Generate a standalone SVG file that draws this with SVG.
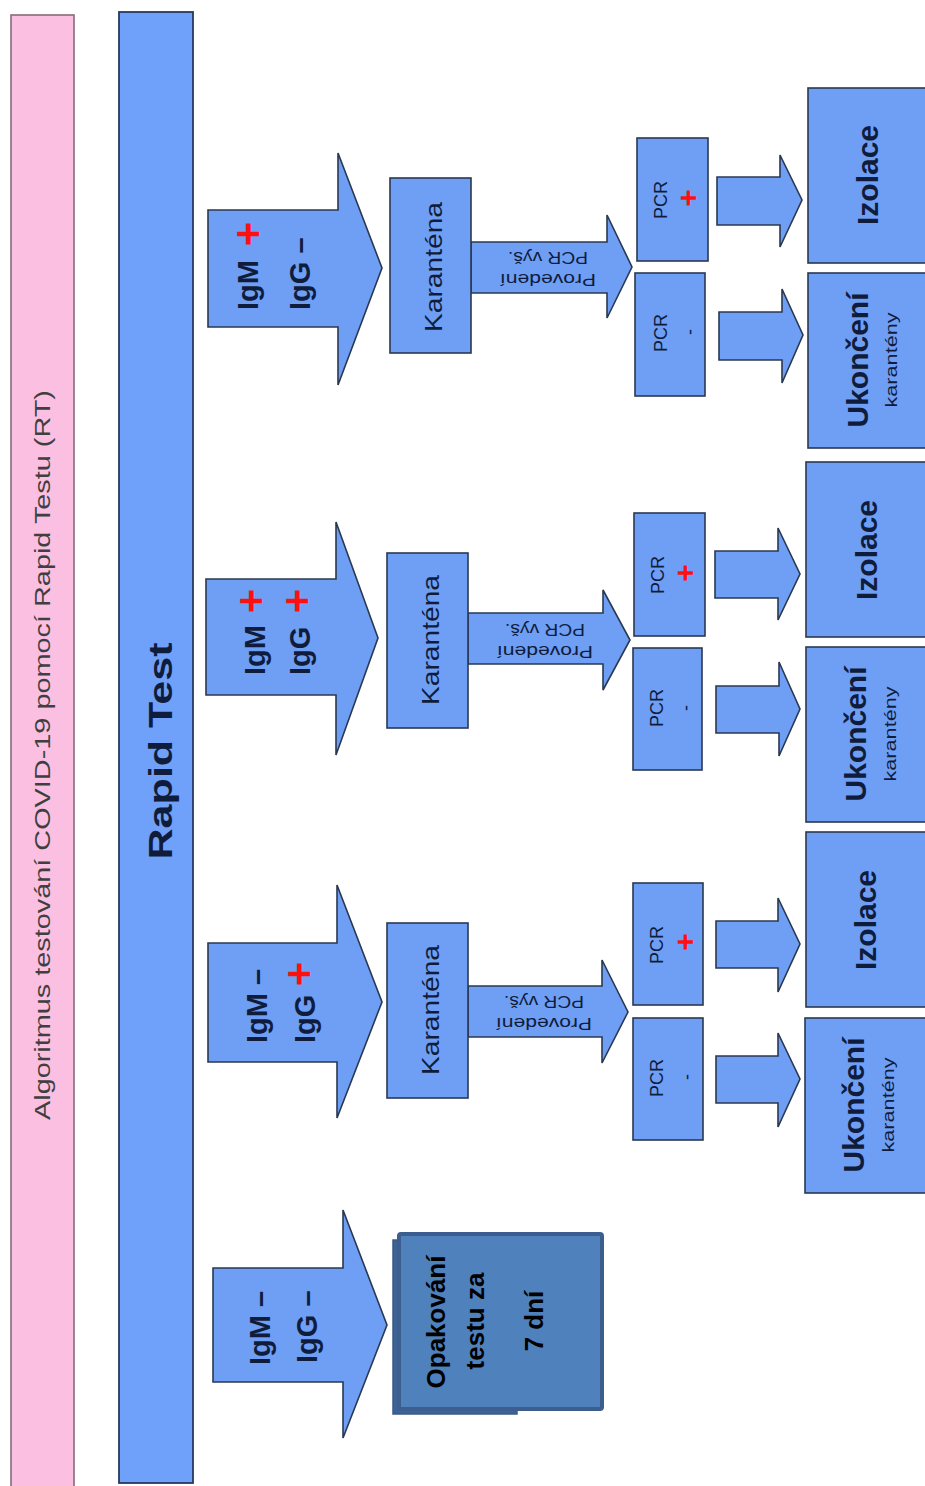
<svg xmlns="http://www.w3.org/2000/svg" width="925" height="1486" viewBox="0 0 925 1486">
<style>
.bx{fill:#6e9ff5;stroke:#2a3850;stroke-width:1.6}
.ar{fill:#6e9ff5;stroke:#2a3850;stroke-width:1.6;stroke-linejoin:miter}
.t{font-family:"Liberation Sans",Arial,sans-serif;fill:#101c3c}
.b{font-weight:bold}
.ig{font-family:"Liberation Sans",Arial,sans-serif;font-weight:bold;font-size:29px;fill:#101c3c}
.rp{font-family:"Liberation Sans",Arial,sans-serif;font-weight:bold;fill:#ff1010;text-anchor:middle}
.pcr{font-family:"Liberation Sans",Arial,sans-serif;font-size:18px;fill:#101c3c;text-anchor:middle}
.pv{font-family:"Liberation Sans",Arial,sans-serif;font-size:16px;fill:#101c3c;text-anchor:middle}
.mid{text-anchor:middle}
</style>
<rect width="925" height="1486" fill="#ffffff"/>

<g id="title">
<rect x="11" y="15" width="63" height="1475" fill="#fbbfe2" stroke="#8a6a78" stroke-width="1.6"/>
<text class="t mid" transform="translate(50,755) rotate(-90)" font-size="22" style="fill:#3f3f3f" textLength="730" lengthAdjust="spacingAndGlyphs">Algoritmus testování COVID-19 pomocí Rapid Testu (RT)</text>
</g>

<g id="rapid-test">
<rect x="119" y="12" width="74" height="1471" fill="#6fa0fa" stroke="#27395c" stroke-width="1.8"/>
<text class="t b mid" transform="translate(172,751) rotate(-90)" font-size="34" textLength="217" lengthAdjust="spacingAndGlyphs">Rapid Test</text>
</g>

<g id="connectors">
<polygon class="ar" points="208,210 338,210 338,153 382,268 338,385 338,327 208,327"/>
<polygon class="ar" points="206,579 336,579 336,522 378,638 336,755 336,695 206,695"/>
<polygon class="ar" points="208,943 337,943 337,885 382,1002 337,1118 337,1062 208,1062"/>
<polygon class="ar" points="213,1268 343,1268 343,1210 387,1325 343,1438 343,1382 213,1382"/>
<polygon class="ar" points="471,242 607,242 607,215 632,267 607,318 607,293 471,293"/>
<polygon class="ar" points="468,613 603,613 603,590 630,640 603,690 603,664 468,664"/>
<polygon class="ar" points="468,986 602,986 602,960 628,1012 602,1063 602,1037 468,1037"/>
<polygon class="ar" points="717,177 780,177 780,155 802,200 780,247 780,225 717,225"/>
<polygon class="ar" points="719,312 782,312 782,289 803,335 782,383 782,360 719,360"/>
<polygon class="ar" points="715,551 778,551 778,528 800,574 778,620 778,598 715,598"/>
<polygon class="ar" points="716,686 779,686 779,662 800,709 779,756 779,733 716,733"/>
<polygon class="ar" points="716,921 778,921 778,898 800,944 778,992 778,968 716,968"/>
<polygon class="ar" points="716,1056 778,1056 778,1033 800,1079 778,1127 778,1103 716,1103"/>
<!-- big arrow labels -->
<text class="ig" transform="translate(258,310) rotate(-90)">IgM</text>
<text class="rp" font-size="42" transform="translate(262,234) rotate(-90)">+</text>
<text class="ig" transform="translate(310,310) rotate(-90)">IgG –</text>

<text class="ig" transform="translate(265,675) rotate(-90)">IgM</text>
<text class="rp" font-size="42" transform="translate(265,601) rotate(-90)">+</text>
<text class="ig" transform="translate(310,675) rotate(-90)">IgG</text>
<text class="rp" font-size="42" transform="translate(311,601) rotate(-90)">+</text>

<text class="ig" transform="translate(267,1043) rotate(-90)">IgM –</text>
<text class="ig" transform="translate(315,1043) rotate(-90)">IgG</text>
<text class="rp" font-size="42" transform="translate(313,974) rotate(-90)">+</text>

<text class="ig" transform="translate(270,1365) rotate(-90)">IgM –</text>
<text class="ig" transform="translate(317,1363) rotate(-90)">IgG –</text>
<!-- PCR arrow labels -->
<text class="pv" transform="translate(548,274) rotate(180)" textLength="96" lengthAdjust="spacingAndGlyphs">Provedení</text>
<text class="pv" transform="translate(548,252) rotate(180)" textLength="80" lengthAdjust="spacingAndGlyphs">PCR vyš.</text>
<text class="pv" transform="translate(545,646) rotate(180)" textLength="96" lengthAdjust="spacingAndGlyphs">Provedení</text>
<text class="pv" transform="translate(545,624) rotate(180)" textLength="80" lengthAdjust="spacingAndGlyphs">PCR vyš.</text>
<text class="pv" transform="translate(544,1018) rotate(180)" textLength="96" lengthAdjust="spacingAndGlyphs">Provedení</text>
<text class="pv" transform="translate(544,996) rotate(180)" textLength="80" lengthAdjust="spacingAndGlyphs">PCR vyš.</text>
</g>

<g id="karantena-1">
<rect class="bx" x="390" y="178" width="81" height="175"/>
<text class="t mid" transform="translate(442,267) rotate(-90)" font-size="24" textLength="130" lengthAdjust="spacingAndGlyphs">Karanténa</text>
</g>
<g id="karantena-2">
<rect class="bx" x="387" y="553" width="81" height="175"/>
<text class="t mid" transform="translate(439,640) rotate(-90)" font-size="24" textLength="130" lengthAdjust="spacingAndGlyphs">Karanténa</text>
</g>
<g id="karantena-3">
<rect class="bx" x="387" y="923" width="81" height="175"/>
<text class="t mid" transform="translate(439,1010) rotate(-90)" font-size="24" textLength="130" lengthAdjust="spacingAndGlyphs">Karanténa</text>
</g>

<g id="pcr-pos-1">
<rect class="bx" x="637" y="138" width="71" height="123"/>
<text class="pcr" transform="translate(667,200) rotate(-90)">PCR</text>
<text class="rp" font-size="30" transform="translate(698,198) rotate(-90)">+</text>
</g>
<g id="pcr-neg-1">
<rect class="bx" x="635" y="273" width="70" height="123"/>
<text class="pcr" transform="translate(667,333) rotate(-90)">PCR</text>
<text class="pcr" transform="translate(696,332) rotate(-90)">-</text>
</g>
<g id="pcr-pos-2">
<rect class="bx" x="634" y="513" width="71" height="123"/>
<text class="pcr" transform="translate(664,575) rotate(-90)">PCR</text>
<text class="rp" font-size="30" transform="translate(695,573) rotate(-90)">+</text>
</g>
<g id="pcr-neg-2">
<rect class="bx" x="633" y="648" width="69" height="122"/>
<text class="pcr" transform="translate(663,708) rotate(-90)">PCR</text>
<text class="pcr" transform="translate(692,708) rotate(-90)">-</text>
</g>
<g id="pcr-pos-3">
<rect class="bx" x="633" y="883" width="70" height="122"/>
<text class="pcr" transform="translate(663,945) rotate(-90)">PCR</text>
<text class="rp" font-size="30" transform="translate(695,942) rotate(-90)">+</text>
</g>
<g id="pcr-neg-3">
<rect class="bx" x="633" y="1018" width="70" height="122"/>
<text class="pcr" transform="translate(663,1078) rotate(-90)">PCR</text>
<text class="pcr" transform="translate(693,1077) rotate(-90)">-</text>
</g>

<g id="izolace-1">
<rect class="bx" x="808" y="88" width="118" height="175"/>
<text class="t b mid" transform="translate(878,175) rotate(-90)" font-size="30">Izolace</text>
</g>
<g id="ukonceni-1">
<rect class="bx" x="808" y="273" width="118" height="175"/>
<text class="t b mid" transform="translate(868,360) rotate(-90)" font-size="30">Ukončení</text>
<text class="t mid" transform="translate(897,360) rotate(-90)" font-size="16" textLength="95" lengthAdjust="spacingAndGlyphs">karantény</text>
</g>
<g id="izolace-2">
<rect class="bx" x="806" y="462" width="120" height="175"/>
<text class="t b mid" transform="translate(877,550) rotate(-90)" font-size="30">Izolace</text>
</g>
<g id="ukonceni-2">
<rect class="bx" x="806" y="647" width="120" height="175"/>
<text class="t b mid" transform="translate(866,734) rotate(-90)" font-size="30">Ukončení</text>
<text class="t mid" transform="translate(896,734) rotate(-90)" font-size="16" textLength="95" lengthAdjust="spacingAndGlyphs">karantény</text>
</g>
<g id="izolace-3">
<rect class="bx" x="806" y="832" width="120" height="175"/>
<text class="t b mid" transform="translate(876,920) rotate(-90)" font-size="30">Izolace</text>
</g>
<g id="ukonceni-3">
<rect class="bx" x="805" y="1018" width="121" height="175"/>
<text class="t b mid" transform="translate(864,1105) rotate(-90)" font-size="30">Ukončení</text>
<text class="t mid" transform="translate(894,1105) rotate(-90)" font-size="16" textLength="95" lengthAdjust="spacingAndGlyphs">karantény</text>
</g>

<g id="opakovani">
<rect x="393" y="1240" width="124" height="174" fill="#3d6396" stroke="#3a5a86" stroke-width="1.5"/>
<rect x="399" y="1234" width="203" height="175" rx="2" fill="#4f81bd" stroke="#3b5e8e" stroke-width="4"/>
<text class="t b mid" transform="translate(445,1322) rotate(-90)" font-size="26" style="fill:#000">Opakování</text>
<text class="t b mid" transform="translate(484,1321) rotate(-90)" font-size="26" style="fill:#000">testu za</text>
<text class="t b mid" transform="translate(543,1321) rotate(-90)" font-size="26" style="fill:#000">7 dní</text>
</g>
</svg>
